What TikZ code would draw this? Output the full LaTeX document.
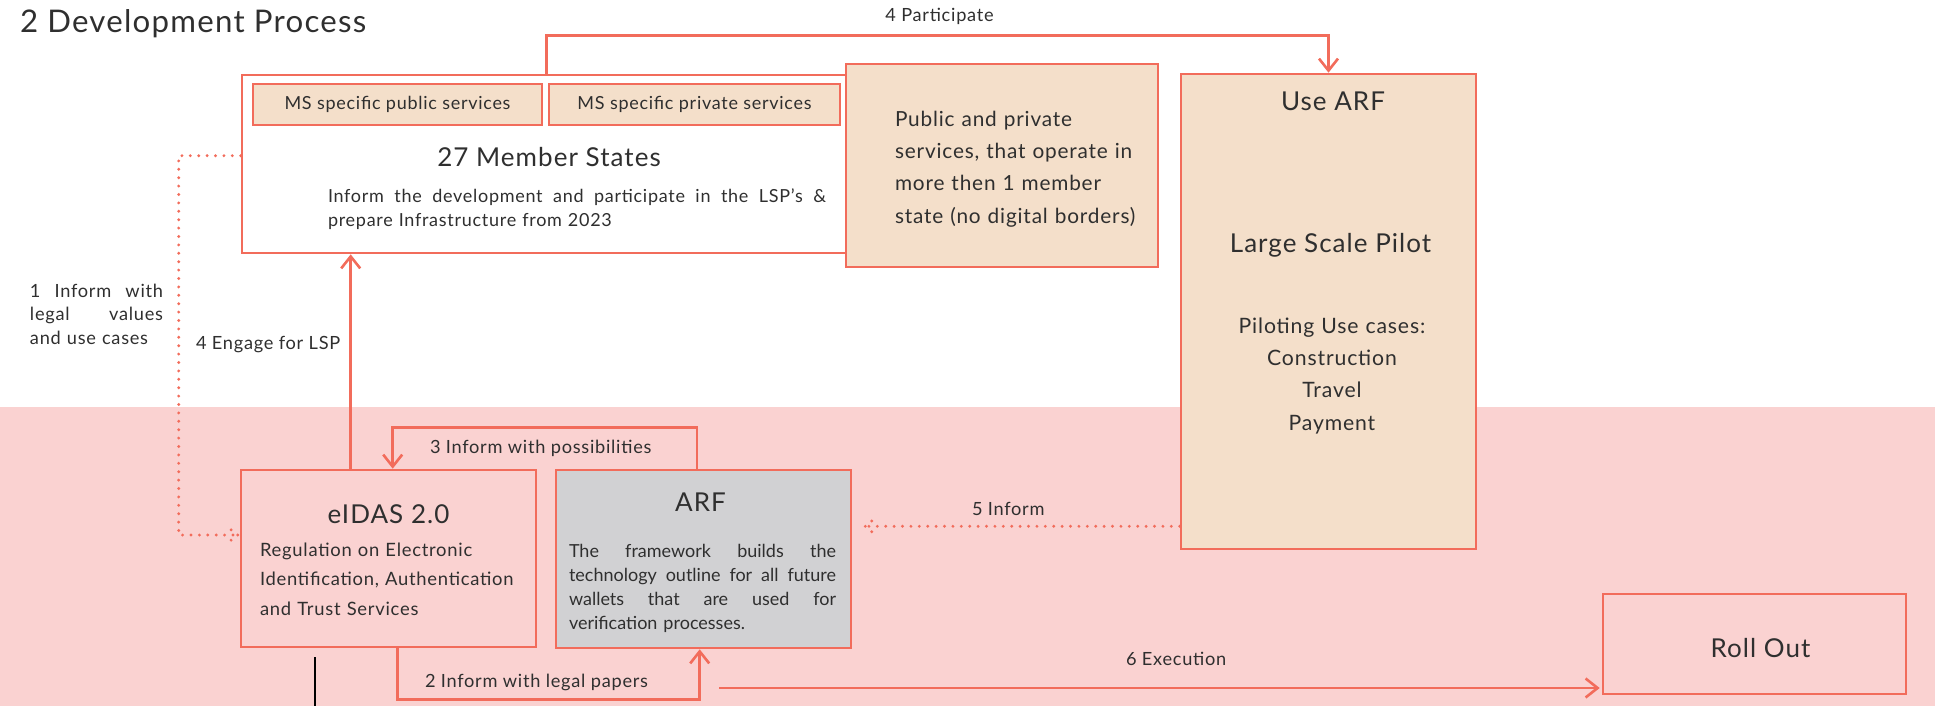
\documentclass[tikz,border=0pt]{standalone}
\usepackage{fontspec}
\setmainfont{Lato}[LetterSpace=4]
\usetikzlibrary{arrows.meta,calc}

\definecolor{salmon}{HTML}{F26C5B}
\definecolor{sand}{HTML}{F4DFCA}
\definecolor{blush}{HTML}{FAD2D1}
\definecolor{steel}{HTML}{D1D1D3}
\definecolor{ink}{HTML}{2F2F2F}

\newcommand\szTitle{\fontsize{15.6pt}{18pt}\selectfont}
\newcommand\szHead{\fontsize{13pt}{16pt}\selectfont}
\newcommand\szOps{\fontsize{10.4pt}{16pt}\selectfont}
\newcommand\szList{\fontsize{10.6pt}{16.2pt}\selectfont}
\newcommand\szLabel{\fontsize{9.1pt}{12pt}\selectfont}
\newcommand\szEidas{\fontsize{9.2pt}{14.75pt}\selectfont}
\newcommand\szNote{\fontsize{9pt}{12pt}\selectfont}
\newcommand\szArf{\fontsize{9pt}{12pt}\selectfont\addfontfeature{LetterSpace=0}}
% a line stretched to the full text width
\newcommand\jline[1]{\leavevmode\hbox to \hsize{\spaceskip=0.25em plus 1fil\relax #1}}

\begin{document}
\begin{tikzpicture}[x=0.5pt,y=-0.5pt,
  every node/.style={text=ink},
  box/.style={draw=salmon, line width=1.3pt, inner sep=0pt},
  txt/.style={inner sep=0pt, outer sep=0pt},
  arr/.style={draw=salmon, line width=1.3pt, -{Straight Barb[length=6pt,width=9.5pt]}},
  dotline/.style={draw=salmon, line width=1.6pt, line cap=round, dash pattern=on 0pt off 4.2pt},
]
\useasboundingbox (0,0) rectangle (1935,706);
% lower band
\fill[blush] (0,407) rectangle (1935,706);

% boxes
\node[box, fill=white, minimum width=304pt, minimum height=89pt] (ms) at (546,164) {};
\node[box, fill=sand, minimum width=144.5pt, minimum height=20.5pt, font=\szNote] (pubsv) at (397.5,104.5) {MS specific public services};
\node[box, fill=sand, minimum width=145.5pt, minimum height=20.5pt, font=\szNote] (privsv) at (694.5,104.5) {MS specific private services};
\node[box, fill=sand, minimum width=156pt, minimum height=101.5pt] (ops) at (1002,165.5) {};
\node[box, fill=sand, minimum width=147.5pt, minimum height=237.5pt] (lsp) at (1328.5,311.5) {};
\node[box, fill=blush, minimum width=147.5pt, minimum height=88.5pt] (eidas) at (388.5,558.5) {};
\node[box, fill=steel, minimum width=147.5pt, minimum height=89pt] (arf) at (703.5,559) {};
\node[box, fill=blush, minimum width=151.5pt, minimum height=50pt] (roll) at (1754.5,644) {};

% texts inside boxes
\node[txt, font=\szHead, anchor=base] (msname) at (549,167) {27 Member States};
\node[txt, font=\szNote, anchor=base west, text width=249pt, align=left] (msdesc) at (328,203)
  {\jline{Inform the development and participate in the LSP’s \&}\\prepare Infrastructure from 2023};
\node[txt, font=\szOps, anchor=base west, text width=130pt, align=left] (opsdesc) at (895,127)
  {Public and private\\services, that operate in\\more then 1 member\\state (no digital borders)};
\node[txt, font=\szHead, anchor=base] (lsphead) at (1333,111) {Use ARF};
\node[txt, font=\szHead, anchor=base] (lspname) at (1330.5,252) {Large Scale Pilot};
\node[txt, font=\szList, anchor=base, text width=100pt, align=center] (lspcases) at (1332,333)
  {Piloting Use cases:\\Construction\\Travel\\Payment};
\node[txt, font=\szHead, anchor=base] (eidasname) at (388.5,523) {eIDAS 2.0};
\node[txt, font=\szEidas, anchor=base west, text width=140pt, align=left] (eidasdesc) at (260,556)
  {Regulation on Electronic\\Identification, Authentication\\and Trust Services};
\node[txt, font=\szHead, anchor=base] (arfname) at (700.5,511) {ARF};
\node[txt, font=\szArf, anchor=base west, text width=133.5pt, align=left] (arfdesc) at (569,557)
  {\jline{The framework builds the}\\\jline{technology outline for all future}\\\jline{wallets that are used for}\\verification processes.};
\node[txt, font=\szHead, anchor=base] (rollname) at (1760.5,657) {Roll Out};

% title and connector labels
\node[txt, font=\szTitle, anchor=base west] (title) at (20,33) {2 Development Process};
\node[txt, font=\szLabel, anchor=base] (lblpart) at (939.5,22) {4 Participate};
\node[txt, font=\szLabel, anchor=base west] (lblengage) at (196,350) {4 Engage for LSP};
\node[txt, font=\szLabel, anchor=base west, text width=66.5pt, align=left] (lblone) at (30,297)
  {\jline{1 Inform with}\\\jline{legal values}\\and use cases};
\node[txt, font=\szLabel, anchor=base west] (lblthree) at (430,453) {3 Inform with possibilities};
\node[txt, font=\szLabel, anchor=base west] (lbltwo) at (425,687) {2 Inform with legal papers};
\node[txt, font=\szLabel, anchor=base west] (lblfive) at (972,515) {5 Inform};
\node[txt, font=\szLabel, anchor=base west] (lblsix) at (1126,665) {6 Execution};

% connectors
\draw[arr] ([xshift=153pt]ms.north west) -- ++(0,19pt) -| (lsp.north);
\draw[arr] ([xshift=55.5pt]eidas.north west) coordinate (e4) -- (e4 |- ms.south);
\draw[arr] ([xshift=-3.25pt]arf.north) -- ++(0,20.5pt) -| ([xshift=76.5pt]eidas.north west);
\draw[arr] ([xshift=79pt]eidas.south west) -- ++(0,-25.5pt) -| ([xshift=72.5pt]arf.south west);

\draw[dotline] ([yshift=-41pt]ms.north west) -- ++(-31pt,0) |- ($(eidas.west)+(-1pt,11.75pt)$) coordinate (t1);
\draw[dotline] (t1) -- ++(-6pt,4.75pt) (t1) -- ++(-6pt,-4.75pt);

\coordinate (s5) at ([yshift=12pt]lsp.south west);
\draw[dotline] (s5) -- ($(s5 -| arf.east)+(6.5pt,0)$) coordinate (t5);
\draw[dotline] (t5) -- ++(6pt,5pt) (t5) -- ++(6pt,-5pt);

\coordinate (x6) at (719,688);
\draw[arr, shorten >=1pt] (x6) -- (x6 -| roll.west);

% black stub below eIDAS
\coordinate (stubtop) at (315,657);
\coordinate (stubend) at (315,706);
\draw[black, line width=1pt] (stubtop) -- (stubend);
\end{tikzpicture}
\end{document}
